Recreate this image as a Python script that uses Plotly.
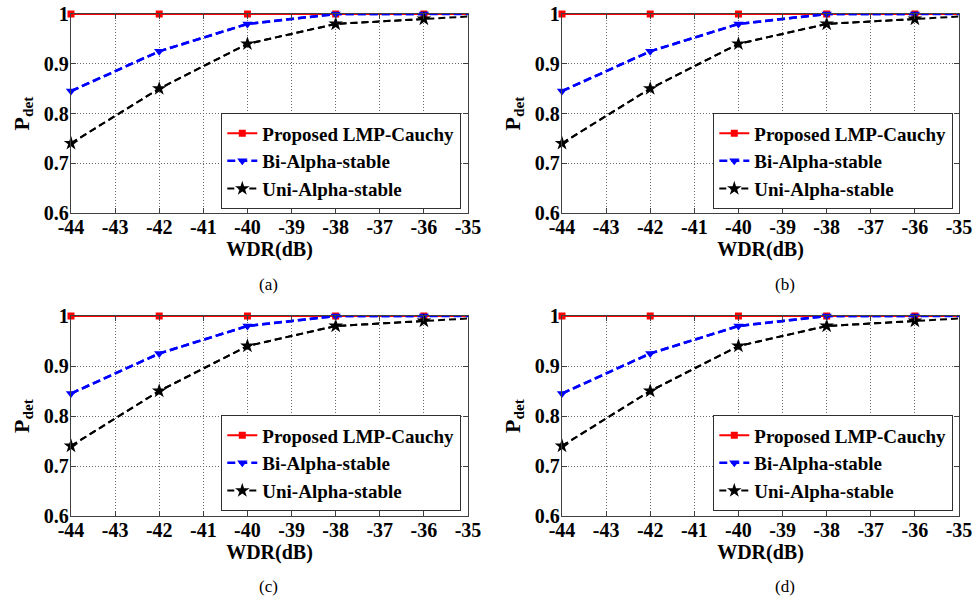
import plotly.graph_objects as go

# ---------------- data ----------------
wdr = [-44, -42, -40, -38, -36, -34]
p_proposed = [1.0, 1.0, 1.0, 1.0, 1.0, 1.0]
p_bi = [0.845, 0.925, 0.98, 1.0, 1.0, 1.0]
p_uni = [0.74, 0.85, 0.94, 0.98, 0.99, 1.0]
series_names = ["Proposed LMP-Cauchy", "Bi-Alpha-stable", "Uni-Alpha-stable"]
x_ticks = [-44, -43, -42, -41, -40, -39, -38, -37, -36, -35]
x_tick_labels = ["-44", "-43", "-42", "-41", "-40", "-39", "-38", "-37", "-36", "-35"]
y_ticks = [0.6, 0.7, 0.8, 0.9, 1.0]
y_tick_labels = ["0.6", "0.7", "0.8", "0.9", "1"]
panel_labels = ["(a)", "(b)", "(c)", "(d)"]
x_title = "WDR(dB)"
y_title = "<b>P<sub>det</sub></b>"

# ---------------- layout geometry ----------------
W, H = 975, 601
FONT = "Liberation Serif, Times New Roman, serif"


def px(x):
    return x / W


def py(y):
    return 1 - y / H


# plot areas in window pixels: (left, right, top, bottom)
boxes = [(71, 468, 14, 213), (562, 959, 14, 213),
         (71, 468, 316, 516), (562, 959, 316, 516)]
legend_pos = [(461, 209), (953, 209), (461, 511), (953, 511)]
caption_pos = [(268, 284), (785, 284), (268, 586), (785, 586)]

styles = [
    dict(color="#ff0000", dash="solid", symbol="square", size=7, width=2),
    dict(color="#0000ff", dash="8px,4px", symbol="triangle-down", size=9, width=2.5),
    dict(color="#000000", dash="7px,4px", symbol="star", size=11, width=2),
]
values = [p_proposed, p_bi, p_uni]

fig = go.Figure()
layout = {}
annotations = []

for i in range(4):
    sfx = "" if i == 0 else str(i + 1)
    xref, yref = "x" + sfx, "y" + sfx
    lgd = "legend" + sfx
    for name, vals, st in zip(series_names, values, styles):
        # full line (continues beyond the visible range, clipped)
        fig.add_trace(go.Scatter(
            x=wdr, y=vals, mode="lines", xaxis=xref, yaxis=yref,
            line=dict(color=st["color"], dash=st["dash"], width=st["width"]),
            showlegend=False, hoverinfo="skip", legend=lgd))
        # visible markers
        fig.add_trace(go.Scatter(
            x=wdr[:-1], y=vals[:-1], mode="lines+markers", name=name,
            xaxis=xref, yaxis=yref, legend=lgd, cliponaxis=False,
            line=dict(color=st["color"], dash=st["dash"], width=st["width"]),
            marker=dict(symbol=st["symbol"], size=st["size"], color=st["color"],
                        line=dict(width=0))))

    l, r, t, b = boxes[i]
    axis_common = dict(
        showline=True, linecolor="#404040", linewidth=1.3, mirror="ticks",
        ticks="inside", ticklen=5, tickcolor="#404040", tickwidth=1,
        showgrid=True, gridcolor="#6a6a6a", griddash="1px,2px", gridwidth=1,
        zeroline=False, automargin=False, ticklabeloverflow="allow",
        tickfont=dict(family=FONT, size=20, color="black", weight="bold"),
    )
    layout["xaxis" + sfx] = dict(
        axis_common, domain=[px(l), px(r)], anchor=yref, range=[-44, -35],
        tickvals=x_ticks, ticktext=x_tick_labels, ticklabelstandoff=-4,
        title=dict(text="<b>" + x_title + "</b>", standoff=2,
                   font=dict(family=FONT, size=20, color="black")))
    layout["yaxis" + sfx] = dict(
        axis_common, domain=[py(b), py(t)], anchor=xref, range=[0.6, 1.0],
        tickvals=y_ticks, ticktext=y_tick_labels, ticklabelstandoff=-3,
        title=dict(text=y_title, standoff=8,
                   font=dict(family=FONT, size=22, color="black")))
    lx, ly = legend_pos[i]
    layout[lgd] = dict(
        x=px(lx), y=py(ly), xanchor="right", yanchor="bottom",
        bgcolor="white", bordercolor="#303030", borderwidth=1.3,
        font=dict(family=FONT, size=19, color="black", weight="bold"),
        itemwidth=30, tracegroupgap=0)
    cx, cy = caption_pos[i]
    annotations.append(dict(
        text=panel_labels[i], x=px(cx), y=py(cy), xref="paper", yref="paper",
        showarrow=False, xanchor="center", yanchor="middle",
        font=dict(family=FONT, size=17, color="black")))

fig.update_layout(
    width=W, height=H, margin=dict(l=0, r=0, t=0, b=0),
    paper_bgcolor="white", plot_bgcolor="white",
    annotations=annotations, **layout)

fig.write_html(
    "out.html",
    config={"displayModeBar": False},
    post_script="document.body.style.margin='0';document.body.style.overflow='hidden';")
